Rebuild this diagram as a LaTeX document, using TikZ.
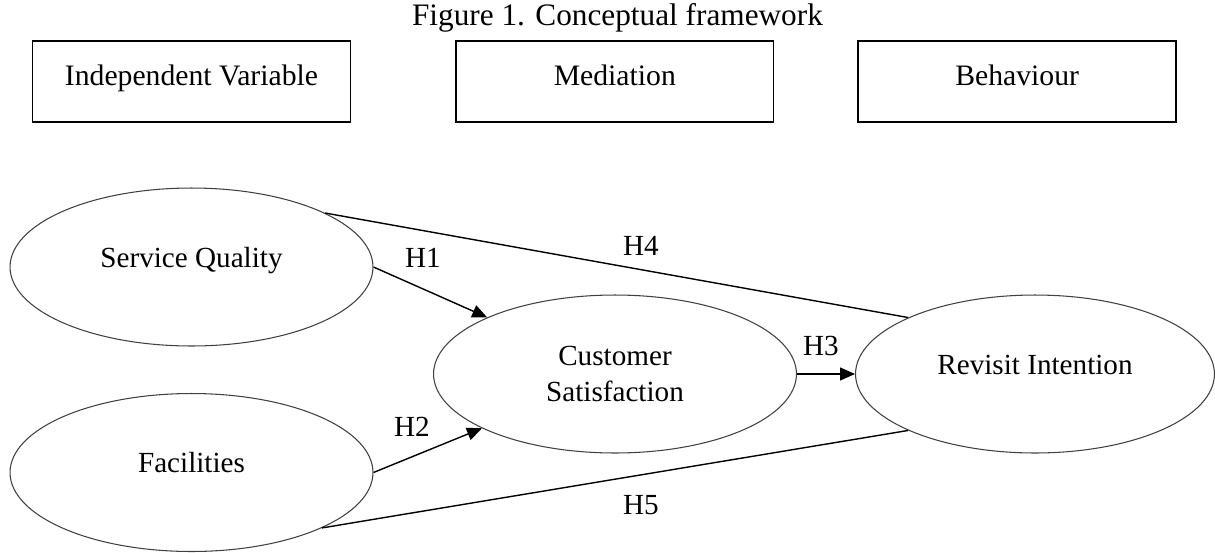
\documentclass[tikz,border=0pt]{standalone}
\usepackage{fontspec}
\setmainfont{Liberation Serif}
\usetikzlibrary{shapes.geometric,arrows.meta,positioning}

\begin{document}
\begin{tikzpicture}[
    x=0.02cm, y=-0.02cm,
    box/.style={
        rectangle,
        draw=black,
        line width=0.8pt,
        minimum width=6.36cm,
        minimum height=1.62cm,
        text height=0.7em,
        text depth=0.25em,
        inner sep=0pt,
        font=\fontsize{16.9}{20.5}\selectfont
    },
    oval/.style={
        ellipse,
        draw=black!75,
        line width=0.6pt,
        minimum width=7.26cm,
        minimum height=3.16cm,
        align=center,
        inner sep=0pt
    },
    oneline/.style={
        text height=1.2ex,
        text depth=1.2ex
    },
    arrow/.style={
        -{Triangle[length=0.3cm,width=0.26cm]},
        line width=0.8pt
    },
    link/.style={
        line width=0.8pt
    },
    every node/.style={
        font=\fontsize{16.6}{20.5}\selectfont
    }
]
\useasboundingbox (0,0) rectangle (1215,552);

% Title
\node[anchor=base, font=\fontsize{17.8}{21}\selectfont] (title) at (617.5,25) {Figure 1. Conceptual framework};

% Column headers
\node[box] (indep) at (191.5,81.5) {Independent Variable};
\node[box, right=2.08cm of indep] (mediation) {Mediation};
\node[box, right=1.66cm of mediation] (behaviour) {Behaviour};

% Constructs
\node[oval, oneline] (service) at (191.5,267) {Service Quality};
\node[oval, oneline] (facilities) at (191.5,472.5) {Facilities};
\node[oval] (satisfaction) at (615,374) {Customer\\Satisfaction};
\node[oval, oneline, minimum width=7.18cm] (revisit) at (1035,374) {Revisit Intention};

% Paths
\draw[arrow] (service.east) -- (satisfaction);
\draw[arrow] (facilities.east) -- (satisfaction);
\draw[arrow] (satisfaction.east) -- (revisit.west);
\draw[link] (service.22.5) -- (revisit.156.3);
\draw[link] (facilities.-23) -- (revisit.-156.7);

% Hypotheses
\node (h1) at (423,258) {H1};
\node (h2) at (412,427) {H2};
\node (h3) at (821,346) {H3};
\node (h4) at (641,246) {H4};
\node (h5) at (641,505.5) {H5};

\end{tikzpicture}
\end{document}
